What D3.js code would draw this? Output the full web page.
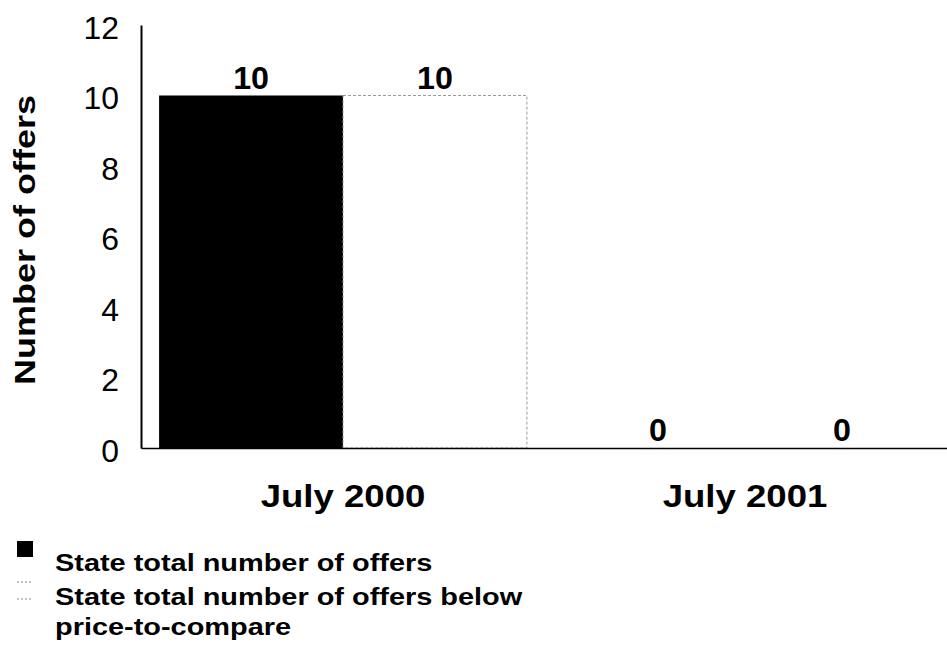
<!DOCTYPE html>
<html>
<head>
<meta charset="utf-8">
<script src="https://cdn.jsdelivr.net/npm/d3@7"></script>
<style>
  html, body { margin: 0; padding: 0; background: #fff; }
  svg { display: block; }
  text { font-family: "Liberation Sans", Arial, Helvetica, sans-serif; fill: #000; }
</style>
</head>
<body>
<svg id="chart" width="947" height="648"></svg>
<script>
// Offer counts by survey date
const categories = ["July 2000", "July 2001"];
const seriesNames = ["State total number of offers", "State total number of offers below\nprice-to-compare"];
const totalOffers = [10, 0];
const offersBelowPtc = [10, 0];
const yTicks = [0, 2, 4, 6, 8, 10, 12];

const svg = d3.select("#chart");
const plot = { left: 141, right: 947, top: 25, bottom: 448 };

const rows = categories.map((c, i) => ({ cat: c, values: [totalOffers[i], offersBelowPtc[i]] }));

const x0 = d3.scaleBand().domain(categories)
  .range([plot.left, plot.right]).paddingInner(0.085).paddingOuter(0.045);
const x1 = d3.scaleBand().domain([0, 1]).range([0, x0.bandwidth()]);
const y = d3.scaleLinear().domain([0, 12]).range([plot.bottom, plot.top]);

const fills = ["#000", "#fff"];

// place a text with its lettering widened by sx
function stretched(sel, x, yy, sx) {
  sel.attr("transform", `translate(${x},${yy}) scale(${sx},1)`);
  return sel;
}

// bars
const groups = svg.append("g").selectAll("g").data(rows).join("g")
  .attr("transform", d => `translate(${x0(d.cat)},0)`);

groups.selectAll("rect").data(d => d.values.map((v, k) => ({ v, k })))
  .join("rect")
  .attr("x", d => x1(d.k))
  .attr("y", d => y(d.v))
  .attr("width", x1.bandwidth())
  .attr("height", d => y(0) - y(d.v))
  .attr("fill", d => fills[d.k])
  .attr("stroke", d => d.k === 1 ? "#9a9a9a" : "none")
  .attr("stroke-width", 1)
  .attr("stroke-dasharray", d => d.k === 1 ? "3,2" : null);

// value labels
groups.selectAll("text.val").data(d => d.values.map((v, k) => ({ v, k })))
  .join("text").attr("class", "val")
  .attr("text-anchor", "middle")
  .attr("font-weight", "bold")
  .attr("font-size", 31)
  .text(d => d.v)
  .each(function (d) {
    const cx = x1(d.k) + x1.bandwidth() / 2 + (d.v === 0 ? 5 : 0);
    stretched(d3.select(this), cx, y(d.v) - 7, 1.04);
  });

// y axis
const yAxis = d3.axisLeft(y).tickValues(yTicks).tickSize(0).tickPadding(0);
const ya = svg.append("g").attr("transform", `translate(${plot.left},0)`).call(yAxis);
ya.select(".domain").attr("stroke", "#000").attr("stroke-width", 2);
ya.selectAll(".tick text")
  .attr("font-size", 31)
  .attr("font-family", "Liberation Sans, Arial, sans-serif")
  .attr("fill", "#000")
  .attr("text-anchor", "end")
  .attr("dy", "0.36em")
  .attr("x", null)
  .attr("transform", "translate(-22,2) scale(1.03,1)");

// x axis
const xAxis = d3.axisBottom(x0).tickSize(0).tickPadding(0);
const xa = svg.append("g").attr("transform", `translate(0,${plot.bottom})`).call(xAxis);
xa.select(".domain").attr("stroke", "#000").attr("stroke-width", 1.5);
xa.selectAll(".tick text")
  .attr("font-size", 31)
  .attr("font-weight", "bold")
  .attr("font-family", "Liberation Sans, Arial, sans-serif")
  .attr("fill", "#000")
  .attr("dy", null)
  .attr("y", 0)
  .attr("transform", "translate(0,59) scale(1.18,1)");

// y axis title
svg.append("text")
  .attr("text-anchor", "middle")
  .attr("font-weight", "bold")
  .attr("font-size", 30)
  .attr("transform", "translate(35,240) rotate(-90) scale(1.2,1)")
  .text("Number of offers");

// legend
const legend = svg.append("g");

legend.append("rect")
  .attr("x", 17).attr("y", 541).attr("width", 16).attr("height", 16)
  .attr("fill", fills[0]);

// dotted outline marker for the second series
[582, 599].forEach(ly => {
  legend.append("line")
    .attr("x1", 17).attr("x2", 33).attr("y1", ly).attr("y2", ly)
    .attr("stroke", "#8a8a8a").attr("stroke-width", 1)
    .attr("stroke-dasharray", "2,2");
});

const legendText = [
  { name: seriesNames[0], y: 571 },
  { name: seriesNames[1], y: 605 }
];
legendText.forEach(r => {
  const t = legend.append("text")
    .attr("font-weight", "bold")
    .attr("font-size", 24.5);
  stretched(t, 55, r.y, 1.18);
  r.name.split("\n").forEach((ln, j) => {
    t.append("tspan").attr("x", 0).attr("dy", j === 0 ? 0 : 30).text(ln);
  });
});
</script>
</body>
</html>
